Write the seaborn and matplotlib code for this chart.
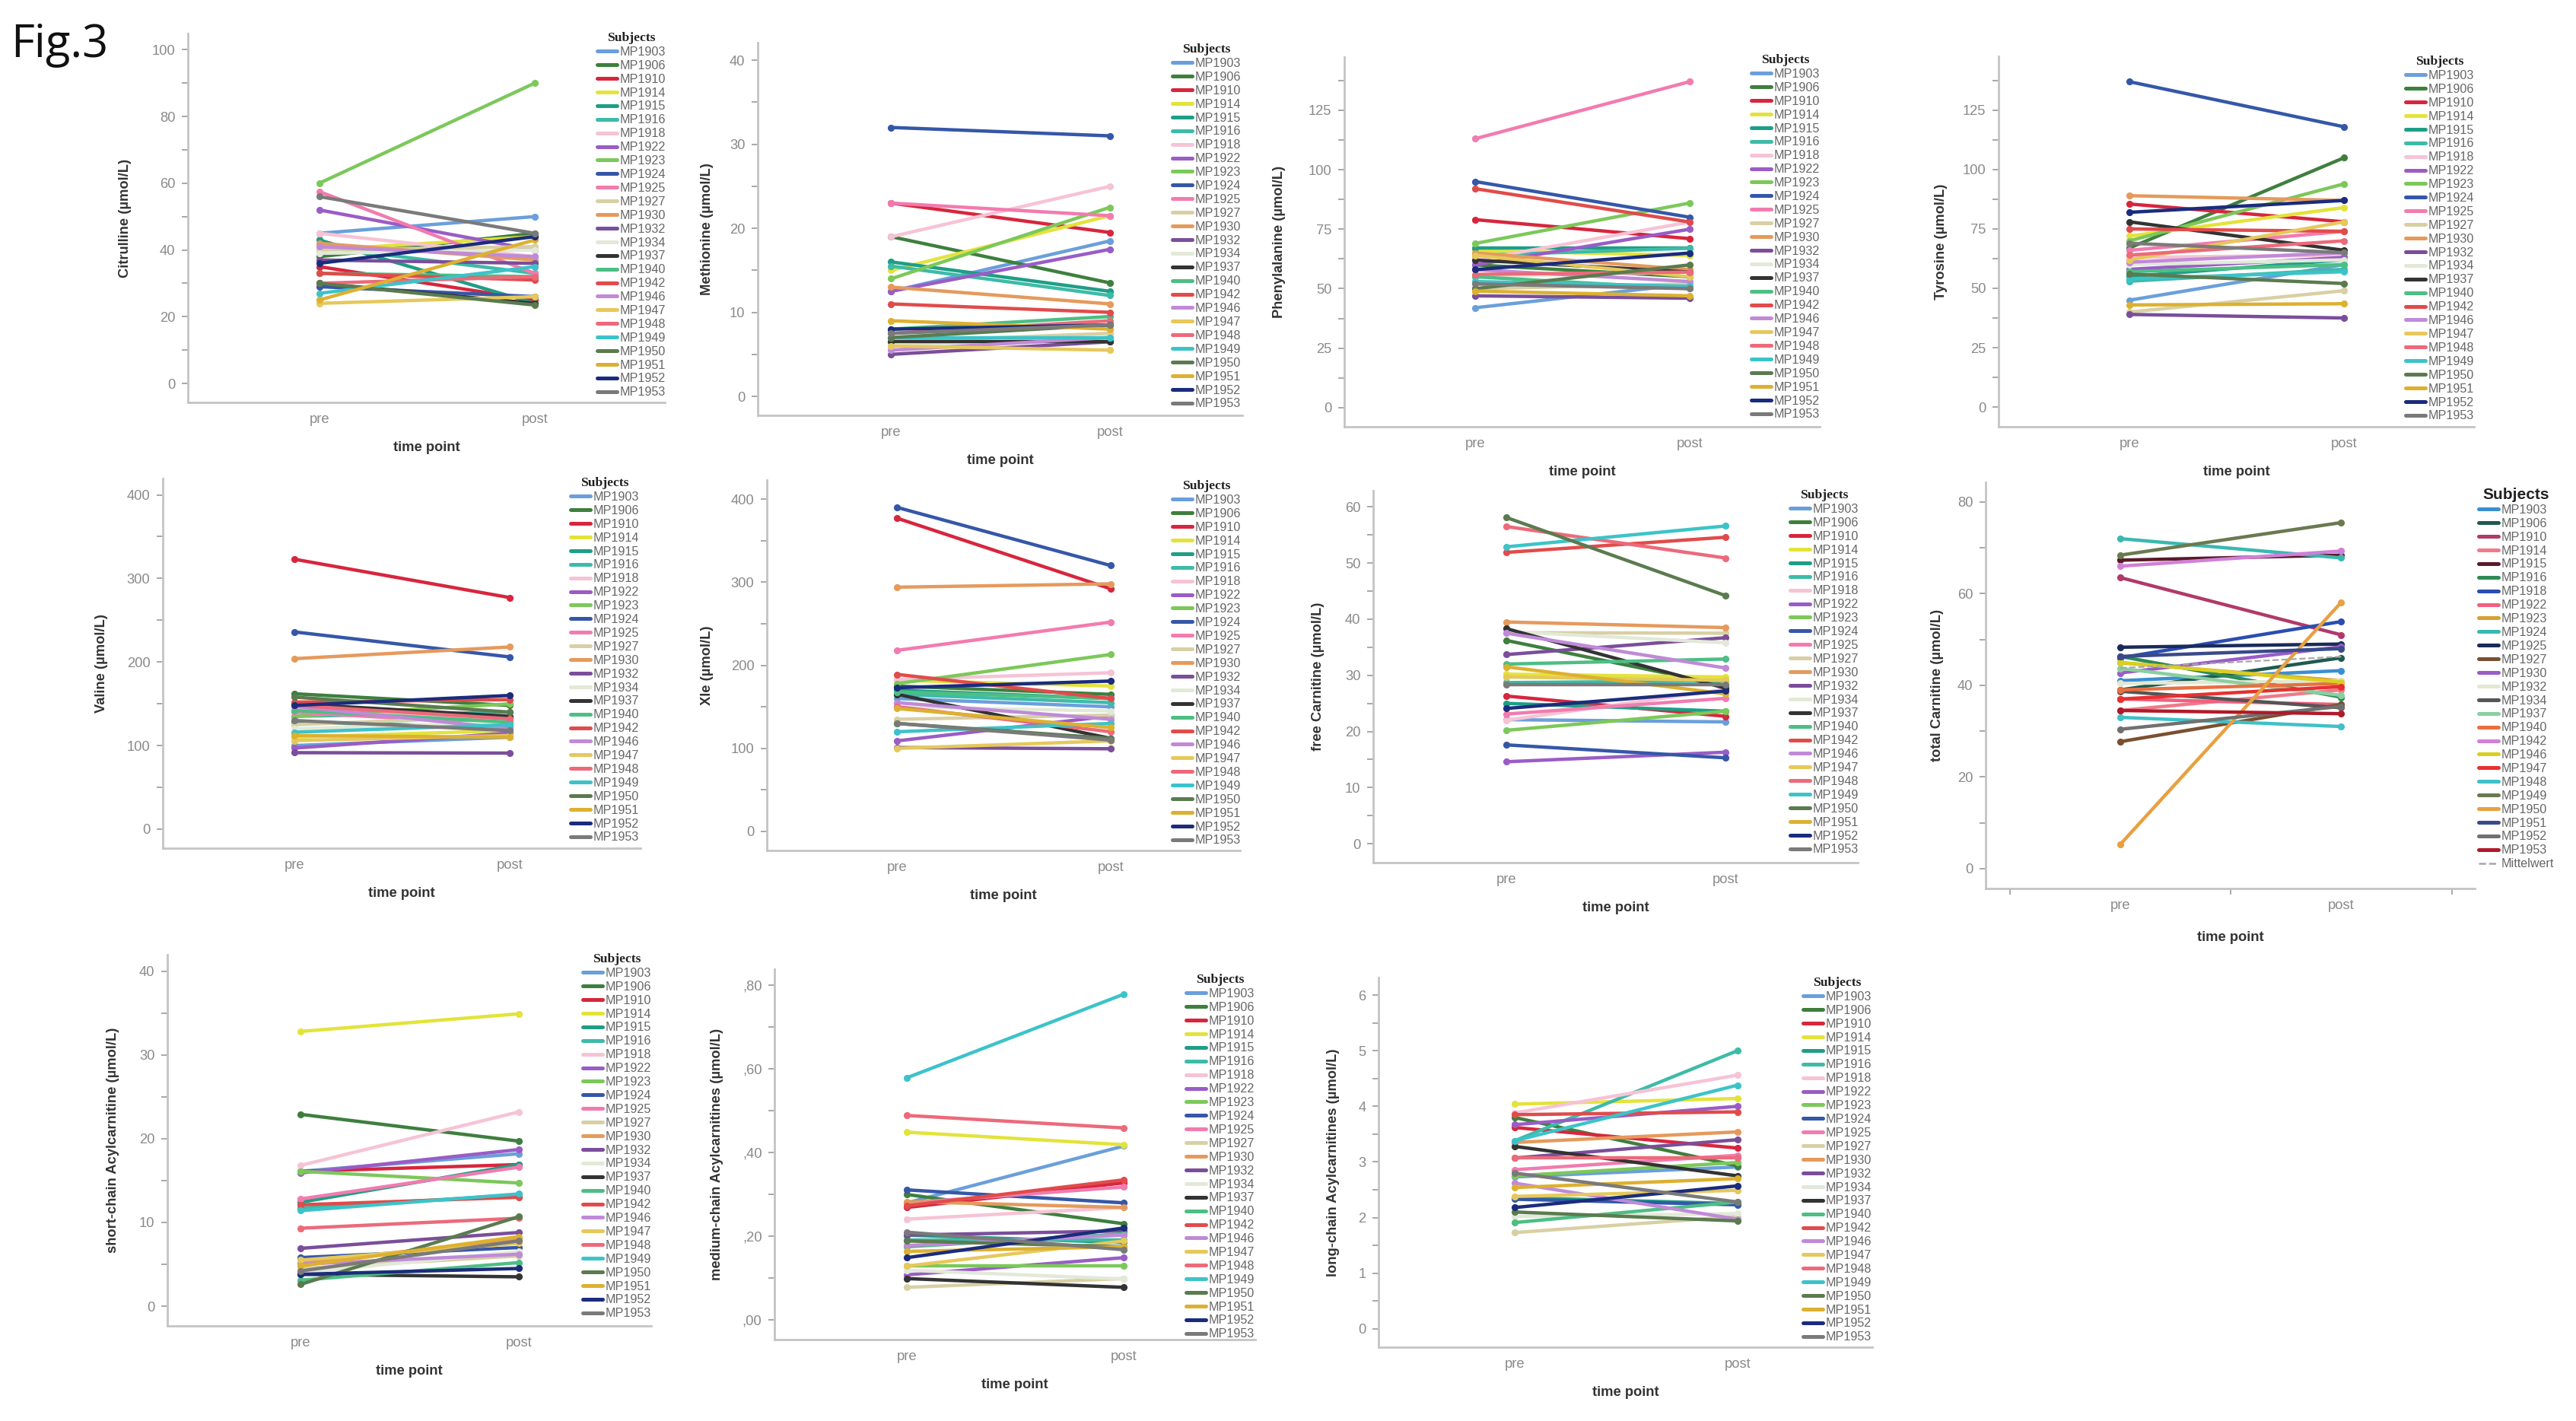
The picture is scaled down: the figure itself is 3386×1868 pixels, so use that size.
import matplotlib
matplotlib.use("Agg")
import matplotlib.pyplot as plt
from matplotlib.lines import Line2D
from matplotlib.ticker import MultipleLocator, FuncFormatter
from matplotlib.font_manager import FontProperties
import numpy as np
import pandas as pd
import seaborn as sns

# subjects and time points
subjects = ["MP1903", "MP1906", "MP1910", "MP1914", "MP1915", "MP1916", "MP1918",
            "MP1922", "MP1923", "MP1924", "MP1925", "MP1927", "MP1930", "MP1932",
            "MP1934", "MP1937", "MP1940", "MP1942", "MP1946", "MP1947", "MP1948",
            "MP1949", "MP1950", "MP1951", "MP1952", "MP1953"]
time_points = ["pre", "post"]

# values (umol/L), one entry per subject
citrulline_pre = [45, 38, 35, 40, 43, 41, 45, 52, 60, 29, 57.5, 40, 42, 37, 39, 30, 33, 33, 41, 24, 30, 27, 30, 25, 36, 56]
citrulline_post = [50, 45, 25, 44, 24, 33, 38, 40, 90, 26, 33, 41, 37, 36, 40, 24, 32, 31, 38, 26, 32, 35, 23.5, 43, 44, 45]

methionine_pre = [12.5, 19, 23, 15, 16, 15.5, 19, 12.5, 14, 32, 23, 6.5, 13, 5, 6, 6.5, 8, 11, 5.5, 6, 7.5, 7, 7, 9, 8, 7.5]
methionine_post = [18.5, 13.5, 19.5, 21.5, 12.5, 12, 25, 17.5, 22.5, 31, 21.5, 7.5, 11, 6.5, 7, 6.5, 9.5, 10, 7, 5.5, 9, 7, 8.5, 8, 8.5, 8.5]

phenylalanine_pre = [42, 60, 79, 66, 67, 64, 62, 60, 69, 95, 113, 50, 65, 47, 55, 62, 55, 92, 58, 64, 56, 53, 50, 49, 58, 52]
phenylalanine_post = [52, 55, 71, 64, 67, 67, 78, 75, 86, 80, 137, 52, 58, 46, 57, 57, 50, 78, 53, 55, 57, 51, 60, 47, 65, 50]

tyrosine_pre = [45, 67, 85.5, 72, 55, 53, 63, 58, 70, 137, 66, 40, 89, 39, 60, 78, 57, 75, 61, 62, 64, 54, 56, 43, 82, 69]
tyrosine_post = [60, 105, 78, 84, 62, 58, 64, 63, 94, 118, 74, 49, 87, 37.5, 62, 66, 60, 74, 65, 78, 70, 57, 52, 43.5, 87, 65]

valine_pre = [100, 162, 323, 110, 128, 135, 145, 97, 135, 236, 140, 125, 204, 91.5, 120, 150, 142, 152, 147, 106, 148, 116, 158, 112, 148, 130]
valine_post = [110, 148, 277, 118, 122, 140, 130, 115, 150, 206, 125, 135, 218, 91, 128, 135, 128, 155, 120, 112, 132, 125, 140, 110, 160, 118]

xle_pre = [160, 175, 377, 182, 170, 165, 183, 109, 178, 390, 218, 135, 294, 101, 150, 165, 168, 189, 155, 100, 150, 120, 130, 148, 173, 130]
xle_post = [150, 165, 292, 175, 160, 155, 191, 139, 213, 320, 252, 140, 298, 99.5, 145, 112, 160, 160, 135, 109, 120, 130, 112, 125, 181, 110]

free_carn_pre = [22.1, 36.2, 26.3, 30.2, 25, 28.7, 22, 14.6, 20.2, 17.6, 23.1, 37.6, 39.5, 33.7, 37.8, 38.3, 32, 51.9, 37.5, 29.7, 56.5, 52.9, 58.1, 31.5, 24.1, 28.3]
free_carn_post = [21.7, 28.2, 22.7, 29.7, 23.6, 29, 27.5, 16.3, 23.6, 15.3, 25.9, 37.5, 38.5, 36.7, 35.8, 27.7, 32.9, 54.6, 31.3, 29.1, 50.9, 56.6, 44.2, 26.7, 27.2, 28.3]

total_carn_pre = [41, 39, 63.5, 34.5, 67.3, 46.3, 46, 37, 44.9, 72, 48.3, 27.7, 42.7, 40.4, 38.7, 43.7, 39, 66, 45, 37, 33, 68.4, 5.3, 46.3, 30.4, 34.5]
total_carn_post = [43.2, 46, 51, 39, 68.4, 37.4, 53.9, 35.8, 41, 67.8, 49, 35.8, 48.4, 41, 35.1, 37.8, 40.4, 69.3, 40.7, 39.7, 31, 75.5, 58.1, 48, 35.4, 33.8]

short_acyl_pre = [16.1, 22.9, 16.1, 32.8, 12.4, 11.7, 16.8, 15.9, 16.1, 5.8, 12.8, 4.5, 5.2, 6.9, 4, 3.8, 3.1, 12.1, 5, 5.5, 9.3, 11.4, 2.6, 4.8, 3.8, 4.2]
short_acyl_post = [18.2, 19.7, 16.9, 34.9, 16.9, 13.3, 23.2, 18.7, 14.7, 7, 16.6, 6, 8, 8.8, 6.5, 3.5, 5.2, 13, 6.2, 7.5, 10.5, 13.4, 10.7, 8.3, 4.5, 7.8]

medium_acyl_pre = [.28, .30, .269, .449, .203, .192, .241, .108, .129, .311, .28, .078, .283, .203, .119, .099, .175, .273, .178, .129, .489, .579, .189, .164, .149, .21]
medium_acyl_post = [.416, .23, .328, .419, .185, .192, .269, .149, .129, .28, .318, .099, .269, .213, .098, .078, .206, .335, .203, .189, .459, .779, .175, .175, .22, .168]

long_acyl_pre = [2.73, 3.8, 3.62, 4.04, 2.36, 3.38, 3.88, 3.67, 2.75, 2.33, 2.86, 1.73, 3.35, 3.07, 2.02, 3.28, 1.91, 3.85, 2.62, 2.38, 3.07, 3.38, 2.1, 2.54, 2.18, 2.8]
long_acyl_post = [2.91, 2.93, 3.25, 4.14, 2.25, 5.0, 4.56, 4.0, 2.99, 2.23, 3.12, 2.02, 3.54, 3.4, 2.07, 2.75, 2.28, 3.9, 1.97, 2.49, 3.07, 4.38, 1.94, 2.7, 2.57, 2.28]

# colours (SPSS style)
colors_main = ["#6A9FDB", "#3E7F3E", "#D7263D", "#E3E33B", "#1E9E86", "#3DBBA8", "#F6C3D5",
               "#9A5CC6", "#7CC85A", "#3557A8", "#F27BAF", "#D8D0A4", "#E59A5C", "#7A4E9A",
               "#E2E9D8", "#333333", "#4DBE84", "#E14B4B", "#C08AD8", "#E6C85B", "#EC6A7A",
               "#3CC3C9", "#5B7B4F", "#DDB030", "#1B2C7C", "#7A7A7A"]
colors_total = ["#3A8FD0", "#1F5A50", "#B03A6A", "#F07A8A", "#5A1A2A", "#2E8B57", "#2A4DB0",
                "#F06080", "#D8A030", "#3AB8B0", "#1A2A5A", "#7A5030", "#9A5CC6", "#E3E8D2",
                "#555555", "#8ACFA0", "#E87040", "#D080D8", "#D8D020", "#E83030", "#40C0C8",
                "#6A7A50", "#E8A040", "#3A4A8A", "#707070", "#B01A2A"]
pal_main = dict(zip(subjects, colors_main))
pal_total = dict(zip(subjects, colors_total))

sns.set_theme(style="ticks")
plt.rcParams["font.family"] = ["Liberation Sans", "DejaVu Sans"]

W, H = 3387, 1868
fig = plt.figure(figsize=(W / 200, H / 200), dpi=200)
fig.patch.set_facecolor("white")

fig.text(14 / W, 1 - 75 / H, "Fig.3", fontsize=21.5, family=["Open Sans", "DejaVu Sans"],
         ha="left", va="baseline", color="#111111")

# box = (left, right, top, bottom) in pixels, leg = (legend left x, title centre y)
panels = [
    dict(label="Citrulline (µmol/L)", pre=citrulline_pre, post=citrulline_post,
         box=(247, 874, 44, 529), ylim=(-5.7, 104.9), major=20, minor=10, ylx=-0.118, leg=(785, 51)),
    dict(label="Methionine (µmol/L)", pre=methionine_pre, post=methionine_post,
         box=(996, 1633, 56, 546), ylim=(-2.26, 42.1), major=10, minor=5, ylx=-0.091, leg=(1541, 66)),
    dict(label="Phenylalanine (µmol/L)", pre=phenylalanine_pre, post=phenylalanine_post,
         box=(1767, 2392, 75, 561), ylim=(-8.0, 147.3), major=25, minor=12.5, ylx=-0.123, leg=(2302, 80)),
    dict(label="Tyrosine (µmol/L)", pre=tyrosine_pre, post=tyrosine_post,
         box=(2627, 3252, 74, 561), ylim=(-8.3, 147.7), major=25, minor=12.5, ylx=-0.108, leg=(3162, 82)),
    dict(label="Valine (µmol/L)", pre=valine_pre, post=valine_post,
         box=(214, 842, 629, 1115), ylim=(-22.8, 419.6), major=100, minor=50, ylx=-0.115, leg=(750, 636)),
    dict(label="Xle (µmol/L)", pre=xle_pre, post=xle_post,
         box=(1008, 1630, 631, 1118), ylim=(-22.9, 423), major=100, minor=50, ylx=-0.112, leg=(1541, 640)),
    dict(label="free Carnitine (µmol/L)", pre=free_carn_pre, post=free_carn_post,
         box=(1805, 2442, 645, 1134), ylim=(-3.38, 62.9), major=10, minor=5, ylx=-0.1, leg=(2353, 652)),
    dict(label="total Carnitine (µmol/L)", pre=total_carn_pre, post=total_carn_post,
         box=(2610, 3253, 634, 1168), ylim=(-4.35, 84.3), major=20, minor=10, ylx=-0.085, leg=(3258, 650),
         palette=pal_total, mean=True),
    dict(label="short-chain Acylcarnitine (µmol/L)", pre=short_acyl_pre, post=short_acyl_post,
         box=(220, 856, 1255, 1743), ylim=(-2.36, 41.96), major=10, minor=5, ylx=-0.099, leg=(766, 1262)),
    dict(label="medium-chain Acylcarnitines (µmol/L)", pre=medium_acyl_pre, post=medium_acyl_post,
         box=(1018, 1650, 1274, 1761), ylim=(-0.0469, 0.8387), major=0.2, minor=0.1, ylx=-0.106, leg=(1559, 1289),
         fmt=FuncFormatter(lambda v, _: f"{v:.2f}".lstrip("0").replace(".", ","))),
    dict(label="long-chain Acylcarnitines (µmol/L)", pre=long_acyl_pre, post=long_acyl_post,
         box=(1812, 2461, 1285, 1771), ylim=(-0.331, 6.316), major=1, minor=0.5, ylx=-0.078, leg=(2370, 1293)),
]

grey_tick = "#8a8a8a"
n = len(subjects)

for p in panels:
    left, right, top, bottom = p["box"]
    ax = fig.add_axes([left / W, 1 - bottom / H, (right - left) / W, (bottom - top) / H])
    palette = p.get("palette", pal_main)

    df = pd.DataFrame({
        "subject": subjects * 2,
        "time": [time_points[0]] * n + [time_points[1]] * n,
        "value": list(p["pre"]) + list(p["post"]),
    })
    sns.lineplot(data=df, x="time", y="value", hue="subject", hue_order=subjects,
                 palette=palette, estimator=None, sort=False, marker="o", markersize=3.3,
                 markeredgewidth=0, linewidth=1.6, legend=False, ax=ax)
    if p.get("mean"):
        sns.lineplot(data=df, x="time", y="value", estimator="mean", errorbar=None, sort=False,
                     color="#a8a8a8", linestyle="--", linewidth=0.8, ax=ax)

    ax.set_xlim(-0.61, 1.605)
    ax.set_ylim(*p["ylim"])
    ax.yaxis.set_major_locator(MultipleLocator(p["major"]))
    ax.yaxis.set_minor_locator(MultipleLocator(p["minor"]))
    if "fmt" in p:
        ax.yaxis.set_major_formatter(p["fmt"])

    for s in ["top", "right"]:
        ax.spines[s].set_visible(False)
    for s in ["left", "bottom"]:
        ax.spines[s].set_color("#c4c4c4")
        ax.spines[s].set_linewidth(1.0)

    ax.tick_params(axis="y", which="both", left=True, direction="out", length=3, width=0.6,
                   color="#9a9a9a", labelsize=6.6, labelcolor=grey_tick, pad=3)
    ax.tick_params(axis="x", which="major", length=0, labelsize=6.6, labelcolor=grey_tick, pad=5)
    if p.get("mean"):
        ax.set_xticks([-0.5, 0.5, 1.5], minor=True)
        ax.tick_params(axis="x", which="minor", bottom=True, direction="out", length=3,
                       width=0.6, color="#9a9a9a")

    ax.set_ylabel(p["label"], fontsize=6.6, fontweight="bold", color="#333333")
    ax.yaxis.set_label_coords(p["ylx"], 0.5)
    ax.set_xlabel("time point", fontsize=6.6, fontweight="bold", color="#333333")
    ax.xaxis.set_label_coords(0.5, -0.105)

    handles = [Line2D([], [], color=palette[s], lw=1.8) for s in subjects]
    labels = list(subjects)
    if p.get("mean"):
        handles.append(Line2D([], [], color="#a8a8a8", lw=0.9, linestyle="--"))
        labels.append("Mittelwert")
        title_fp = FontProperties(family="Liberation Sans", weight="bold", size=7.5)
    else:
        title_fp = FontProperties(family="Liberation Serif", weight="bold", size=6.3)
    lx, ty = p["leg"]
    leg = ax.legend(handles, labels, title="Subjects", title_fontproperties=title_fp,
                    loc="upper left", bbox_to_anchor=(lx / W, 1 - (ty - 9) / H),
                    bbox_transform=fig.transFigure, frameon=False, fontsize=5.8,
                    handlelength=1.6, handletextpad=0.25, labelspacing=0.18,
                    borderpad=0, borderaxespad=0)
    for t in leg.get_texts():
        t.set_color("#666666")
    leg.get_title().set_color("#222222")

fig.savefig("out.png", dpi=200, facecolor="white")
